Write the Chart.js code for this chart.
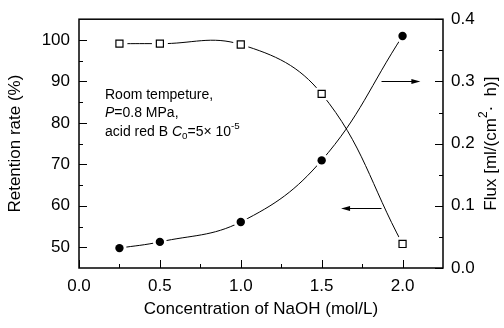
<!DOCTYPE html>
<html><head><meta charset="utf-8">
<script src="https://cdn.jsdelivr.net/npm/chart.js@4/dist/chart.umd.min.js"></script>
<style>html,body{margin:0;padding:0;background:#fff}canvas{display:block}</style>
</head><body>
<canvas id="c" width="504" height="328" style="width:504px;height:328px"></canvas>
<script>
const naoh = [0.25, 0.5, 1.0, 1.5, 2.0];
const retention = [99.1, 99.1, 98.9, 87.0, 50.8];
const flux = [0.032, 0.042, 0.074, 0.173, 0.373];
const xTicks = [0, 0.5, 1.0, 1.5, 2.0];
const xMinor = [0.25, 0.75, 1.25, 1.75];
const leftTicks = [50, 60, 70, 80, 90, 100];
const leftMinor = [55, 65, 75, 85, 95];
const rightTicks = [0, 0.1, 0.2, 0.3, 0.4];
const rightMinor = [0.05, 0.15, 0.25, 0.35];

const FONT = "'Liberation Sans', Arial, sans-serif";
const pts = (ys) => naoh.map((x, i) => ({x: x, y: ys[i]}));

const decor = {
  id: 'decor',
  afterDraw(chart) {
    const ctx = chart.ctx, a = chart.chartArea;
    const sx = chart.scales.x, sl = chart.scales.y, sr = chart.scales.y1;
    ctx.save();
    ctx.strokeStyle = '#000';
    ctx.fillStyle = '#000';
    // frame
    ctx.lineWidth = 1.5;
    ctx.strokeRect(a.left, a.top, a.right - a.left, a.bottom - a.top);
    // ticks
    ctx.lineWidth = 1;
    ctx.beginPath();
    const tk = (vals, len, fn) => vals.forEach(v => fn(v, len));
    tk(xTicks, 8, (v, l) => { const p = Math.round(sx.getPixelForValue(v)) + 0.5; ctx.moveTo(p, a.bottom); ctx.lineTo(p, a.bottom - l); });
    tk(xMinor, 4, (v, l) => { const p = Math.round(sx.getPixelForValue(v)) + 0.5; ctx.moveTo(p, a.bottom); ctx.lineTo(p, a.bottom - l); });
    tk(leftTicks, 8, (v, l) => { const p = Math.round(sl.getPixelForValue(v)) + 0.5; ctx.moveTo(a.left, p); ctx.lineTo(a.left + l, p); });
    tk(leftMinor, 4, (v, l) => { const p = Math.round(sl.getPixelForValue(v)) + 0.5; ctx.moveTo(a.left, p); ctx.lineTo(a.left + l, p); });
    tk(rightTicks, 8, (v, l) => { const p = Math.round(sr.getPixelForValue(v)) + 0.5; ctx.moveTo(a.right, p); ctx.lineTo(a.right - l, p); });
    tk(rightMinor, 4, (v, l) => { const p = Math.round(sr.getPixelForValue(v)) + 0.5; ctx.moveTo(a.right, p); ctx.lineTo(a.right - l, p); });
    ctx.stroke();

    // rich text helper
    const rich = (segs, x, y, size) => {
      let cx = x;
      segs.forEach(s => {
        let fs = size, dy = 0;
        if (s.sub) { fs = size * 0.7; dy = size * 0.3; }
        if (s.sup) { fs = size * 0.7; dy = -size * 0.4; }
        ctx.font = (s.i ? 'italic ' : '') + fs + 'px ' + FONT;
        ctx.fillText(s.t, cx, y + dy);
        cx += ctx.measureText(s.t).width;
      });
      return cx - x;
    };
    const richWidth = (segs, size) => {
      let w = 0;
      segs.forEach(s => {
        const fs = (s.sub || s.sup) ? size * 0.7 : size;
        ctx.font = (s.i ? 'italic ' : '') + fs + 'px ' + FONT;
        w += ctx.measureText(s.t).width;
      });
      return w;
    };

    // annotation
    ctx.textBaseline = 'middle';
    ctx.textAlign = 'left';
    const ax = a.left + 26;
    rich([{t: 'Room tempeture,'}], ax, 95, 14);
    rich([{t: 'P', i: true}, {t: '=0.8 MPa,'}], ax, 113, 14);
    rich([{t: 'acid red B '}, {t: 'C', i: true}, {t: '0', sub: true}, {t: '=5\u00d7 10'}, {t: '-5', sup: true}], ax, 132, 14);

    // arrows
    const arrow = (x1, x2, yv) => {
      const p1 = sx.getPixelForValue(x1), p2 = sx.getPixelForValue(x2), py = Math.round(sl.getPixelForValue(yv)) + 0.5;
      const d = Math.sign(p2 - p1);
      ctx.lineWidth = 1;
      ctx.beginPath(); ctx.moveTo(p1, py); ctx.lineTo(p2 - d * 6, py); ctx.stroke();
      ctx.beginPath(); ctx.moveTo(p2, py); ctx.lineTo(p2 - d * 9, py - 2.5); ctx.lineTo(p2 - d * 9, py + 2.5); ctx.closePath(); ctx.fill();
    };
    arrow(1.87, 2.11, 90);
    arrow(1.87, 1.62, 59.5);

    // axis titles
    ctx.font = '17px ' + FONT;
    ctx.textAlign = 'center';
    ctx.textBaseline = 'middle';
    ctx.fillText('Concentration of NaOH (mol/L)', (a.left + a.right) / 2, 309);
    const cy = (a.top + a.bottom) / 2;
    ctx.save();
    ctx.translate(15, cy); ctx.rotate(-Math.PI / 2);
    ctx.fillText('Retention rate (%)', 0, 0);
    ctx.restore();
    ctx.save();
    ctx.translate(491, cy); ctx.rotate(-Math.PI / 2);
    const segs = [{t: 'Flux [ml/(cm'}, {t: '2', sup: true}, {t: '\u00b7  h)]'}];
    const w = richWidth(segs, 17);
    ctx.textAlign = 'left';
    rich(segs, -w / 2, 0, 17);
    ctx.restore();
    ctx.restore();
  }
};

const tickFont = {family: FONT, size: 17};
const noGrid = {display: false, drawTicks: false};
new Chart(document.getElementById('c'), {
  type: 'line',
  data: {
    datasets: [
      {data: pts(retention), yAxisID: 'y', showLine: false, order: 0,
       pointStyle: 'rect', pointRadius: 5, pointBackgroundColor: '#fff', pointBorderColor: '#000', pointBorderWidth: 1.2},
      {data: pts(flux), yAxisID: 'y1', showLine: false, order: 0,
       pointStyle: 'circle', pointRadius: 4.2, pointBackgroundColor: '#000', pointBorderColor: '#000', pointBorderWidth: 0},
      {data: pts(retention), yAxisID: 'y', order: 1, borderColor: '#000', borderWidth: 1, tension: 0.4,
       pointRadius: 8, pointBackgroundColor: '#fff', pointBorderWidth: 0},
      {data: pts(flux), yAxisID: 'y1', order: 1, borderColor: '#000', borderWidth: 1, tension: 0.4,
       pointRadius: 7, pointBackgroundColor: '#fff', pointBorderWidth: 0}
    ]
  },
  options: {
    responsive: false,
    animation: false,
    layout: {padding: {top: 16, left: 0, right: 0, bottom: 0}},
    plugins: {legend: {display: false}, tooltip: {enabled: false}},
    scales: {
      x: {type: 'linear', min: 0, max: 2.25,
          afterBuildTicks: s => { s.ticks = xTicks.map(v => ({value: v})); },
          afterFit: s => { s.height = 60; },
          grid: noGrid, border: {display: false},
          ticks: {font: tickFont, color: '#000', padding: 8, maxRotation: 0, callback: v => v.toFixed(1)}},
      y: {position: 'left', min: 45, max: 105,
          afterBuildTicks: s => { s.ticks = leftTicks.map(v => ({value: v})); },
          afterFit: s => { s.width = 79; },
          grid: noGrid, border: {display: false},
          ticks: {font: tickFont, color: '#000', padding: 9, callback: v => String(v)}},
      y1: {position: 'right', min: 0, max: 0.4,
          afterBuildTicks: s => { s.ticks = rightTicks.map(v => ({value: v})); },
          afterFit: s => { s.width = 61; },
          grid: noGrid, border: {display: false},
          ticks: {font: tickFont, color: '#000', padding: 8, callback: v => v.toFixed(1)}}
    }
  },
  plugins: [decor]
});
</script>
</body></html>
